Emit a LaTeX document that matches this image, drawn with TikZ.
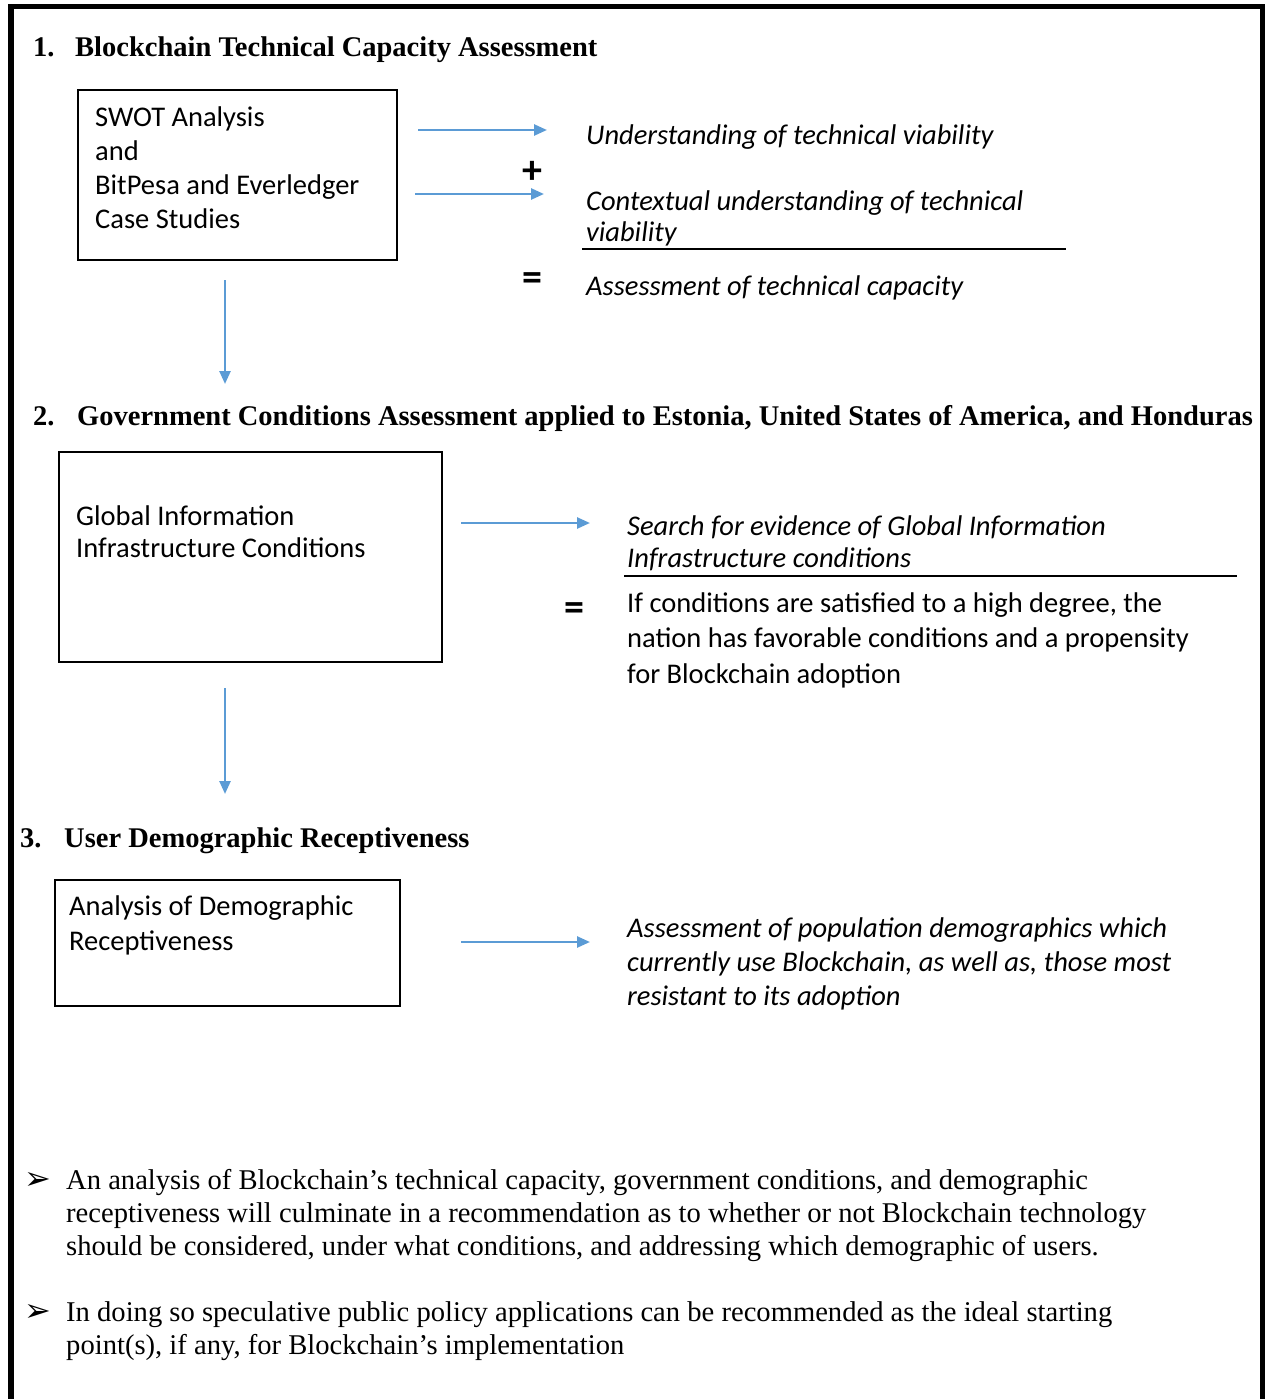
\documentclass[tikz,border=0pt]{standalone}
\usepackage{fontspec}
\setmainfont{Liberation Serif}
\newfontfamily\calibri{Carlito}
\newfontfamily\arrowfont{DejaVu Sans}
\usetikzlibrary{arrows.meta}

\definecolor{flowblue}{RGB}{91,155,213}

\begin{document}
\begin{tikzpicture}[
        x=1pt, y=-1pt,
        declare function={
            Width=1265;
            Height=1399;
        },
        flow/.style={draw=flowblue, line width=2.5pt, -{Triangle[length=13pt, width=11pt]}},
        framebox/.style={draw, line width=2pt, anchor=north west, inner sep=0pt},
        heading/.style={anchor=base west, inner sep=0pt, font=\fontsize{28.5}{34}\selectfont\bfseries},
        boxtext/.style={anchor=base west, inner sep=0pt, align=left, font=\calibri\fontsize{28.5}{34}\selectfont},
        result/.style={boxtext, font=\calibri\itshape\fontsize{28.5}{34}\selectfont},
        sign/.style={inner sep=0pt, font=\calibri\bfseries\fontsize{40}{40}\selectfont},
        bullet/.style={anchor=base west, inner sep=0pt, align=left, font=\fontsize{28.6}{33}\selectfont},
        pointer/.style={anchor=base west, inner sep=0pt, font=\arrowfont\bfseries\fontsize{32}{32}\selectfont},
    ]
    \useasboundingbox (0, 0) rectangle (Width, Height);
    \draw[line width=5.5pt] (11, Height) -- (11, 6.5) -- (1263, 6.5) -- (1263, Height);

    % 1. technical capacity (multi-line nodes sit on their last baseline)
    \node[heading] (h1num) at (33, 57) {1.};
    \node[heading] (h1) at (75, 57) {Blockchain Technical Capacity Assessment};
    \node[framebox, minimum width=319pt, minimum height=170pt] (swotbox) at (77, 89) {};
    \node[boxtext] (swot) at (95, 228) {SWOT Analysis\\and\\BitPesa and Everledger\\Case Studies};

    \node[result] (viable) at (586, 145) {Understanding of technical viability};
    \node[result, font=\calibri\itshape\fontsize{28.5}{31}\selectfont] (context) at (586, 241) {Contextual understanding of technical\\viability};
    \draw[line width=2.5pt] (582, 249) -- (1066, 249);
    \node[result] (capacity) at (586, 295) {Assessment of technical capacity};
    \node[sign] (plus1) at (532, 172) {+};
    \node[sign] (equals1) at (532, 282) {=};

    \coordinate (swot-out1) at (418, 130);
    \coordinate (viable-in) at (547, 130);
    \coordinate (swot-out2) at (415, 194);
    \coordinate (context-in) at (544, 194);
    \draw[flow] (swot-out1) -- (viable-in);
    \draw[flow] (swot-out2) -- (context-in);

    \coordinate (down1-top) at (225, 280);
    \coordinate (down1-end) at (225, 384);
    \draw[flow] (down1-top) -- (down1-end);

    % 2. government conditions
    \node[heading] (h2num) at (33, 425) {2.};
    \node[heading] (h2) at (77, 425) {Government Conditions Assessment applied to Estonia, United States of America, and Honduras};
    \node[framebox, minimum width=383pt, minimum height=210pt] (giibox) at (58, 451) {};
    \node[boxtext, font=\calibri\fontsize{28.5}{32}\selectfont] (gii) at (76, 557) {Global Information\\Infrastructure Conditions};

    \node[result, font=\calibri\itshape\fontsize{28.5}{32}\selectfont] (search) at (627, 567) {Search for evidence of Global Information\\Infrastructure conditions};
    \draw[line width=2.5pt] (624, 576) -- (1237, 576);
    \node[sign] (equals2) at (574, 612) {=};
    \node[boxtext, font=\calibri\fontsize{28.5}{35.5}\selectfont] (favour) at (627, 683) {If conditions are satisfied to a high degree, the\\nation has favorable conditions and a propensity\\for Blockchain adoption};

    \coordinate (gii-out) at (461, 523);
    \coordinate (search-in) at (590, 523);
    \draw[flow] (gii-out) -- (search-in);

    \coordinate (down2-top) at (225, 688);
    \coordinate (down2-end) at (225, 794);
    \draw[flow] (down2-top) -- (down2-end);

    % 3. user demographics
    \node[heading] (h3num) at (20, 847) {3.};
    \node[heading] (h3) at (64, 847) {User Demographic Receptiveness};
    \node[framebox, minimum width=345pt, minimum height=126pt] (demobox) at (54, 879) {};
    \node[boxtext, font=\calibri\fontsize{28.5}{35}\selectfont] (demo) at (69, 950) {Analysis of Demographic\\Receptiveness};

    \coordinate (demo-out) at (461, 942);
    \coordinate (population-in) at (590, 942);
    \draw[flow] (demo-out) -- (population-in);
    \node[result] (population) at (627, 1005) {Assessment of population demographics which\\currently use Blockchain, as well as, those most\\resistant to its adoption};

    % conclusions
    \node[pointer] (pointer1) at (24, 1189) {➢};
    \node[bullet] (summary) at (66, 1255) {An analysis of Blockchain’s technical capacity, government conditions, and demographic\\receptiveness will culminate in a recommendation as to whether or not Blockchain technology\\should be considered, under what conditions, and addressing which demographic of users.};
    \node[pointer] (pointer2) at (24, 1321) {➢};
    \node[bullet] (policy) at (66, 1354) {In doing so speculative public policy applications can be recommended as the ideal starting\\point(s), if any, for Blockchain’s implementation};
\end{tikzpicture}
\end{document}
